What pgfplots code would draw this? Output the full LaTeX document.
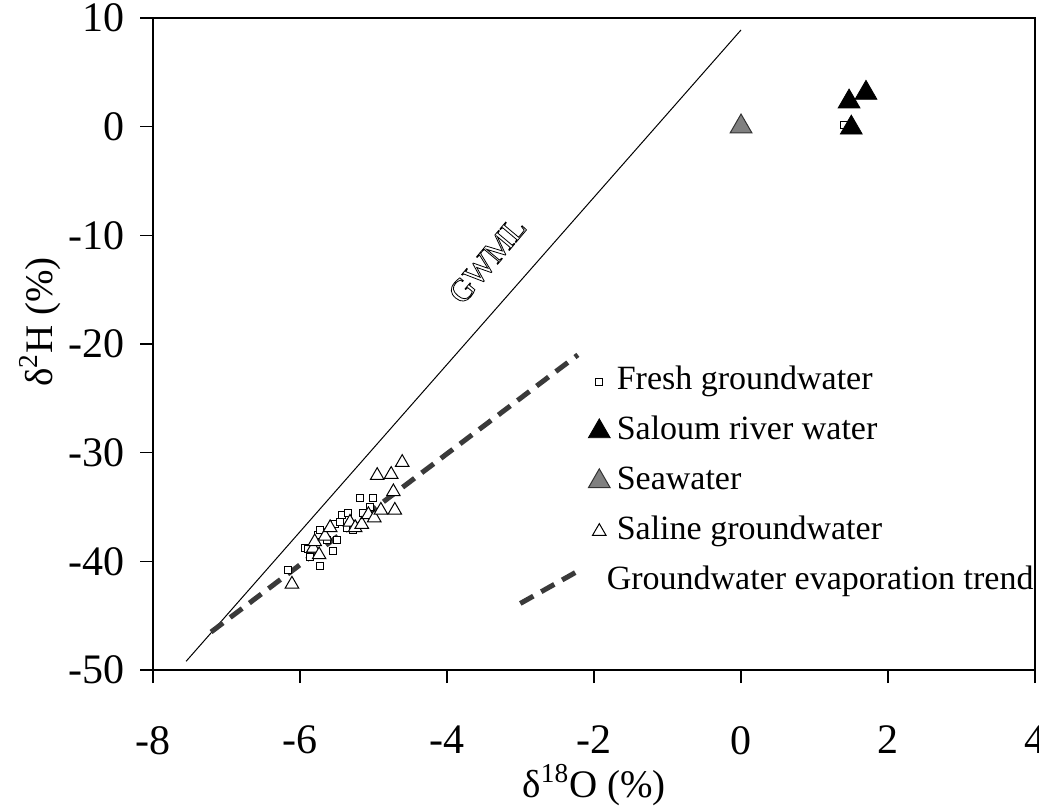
\documentclass[border=0pt]{standalone}
\usepackage{fontspec}
\setmainfont{Liberation Serif}
\usepackage{pgfplots}
\pgfplotsset{compat=1.18}
\definecolor{trend}{HTML}{3A3A3A}
\definecolor{seagray}{HTML}{808080}
\pgfplotsset{
  markleg/.style={legend image code/.code={\draw[mark repeat=2,mark phase=2,##1] plot coordinates {(-7pt,0pt)(0pt,0pt)(7pt,0pt)};}},
  trendleg/.style={legend image code/.code={\draw[##1, overlay] (-39.5pt,-11pt) -- (-11pt,5pt); \path (-7pt,0pt) (7pt,0pt);}},
}
\begin{document}
\begin{tikzpicture}
\begin{axis}[
  scale only axis, width=441pt, height=326pt,
  xmin=-8, xmax=4, ymin=-50, ymax=10,
  xtick={-8,-6,-4,-2,0,2,4},
  ytick={-50,-40,-30,-20,-10,0,10},
  tick pos=left, tick align=outside, major tick length=6.5pt,
  axis line style={line width=0.6pt},
  every tick/.style={black,line width=0.6pt},
  /pgf/number format/assume math mode=true,
  ticklabel style={font=\fontsize{21}{23}\selectfont},
  xticklabel shift=18pt,
  yticklabel shift=4pt,
  xlabel={δ\textsuperscript{18}O (\%)},
  ylabel={δ\textsuperscript{2}H (\%)},
  label style={font=\fontsize{19.5}{22}\selectfont},
  x label style={at={(rel axis cs:0.5,-0.176)}, anchor=center},
  y label style={at={(rel axis cs:-0.128,0.534)}, anchor=center},
  legend style={at={(rel axis cs:0.48,0.480)}, anchor=north west,
    draw=none, fill=none, font=\fontsize{17}{20}\selectfont,
    row sep=5pt, column sep=-1.5pt,
    nodes={text height=12pt, text depth=4pt, inner sep=2pt}},
  legend cell align=left,
  markleg,
]
% GWML
\addplot[black, line width=0.5pt, forget plot] coordinates {(-7.55,-49.2) (0,8.9)};
% Fresh groundwater
\addplot[only marks, mark=square*, mark size=1.75pt, mark options={fill=white, draw=black, line width=0.4pt}] coordinates {
(-6.16,-40.8) (-5.93,-38.8) (-5.89,-38.9) (-5.86,-39.6) (-5.76,-37.6)
(-5.73,-37.1) (-5.73,-40.4) (-5.63,-38.0) (-5.55,-39.0) (-5.52,-36.6)
(-5.50,-38.0) (-5.46,-36.4) (-5.43,-35.7) (-5.36,-36.9) (-5.35,-35.5)
(-5.28,-37.1) (-5.18,-34.2) (-5.14,-35.5) (-5.05,-35.0) (-5.01,-34.2)
(1.40,0.2)};
\addlegendentry{Fresh groundwater}
% Saloum river water
\addplot[only marks, mark=triangle*, mark size=6.3pt, mark options={fill=black, draw=black}] coordinates {
(1.47,2.3) (1.70,3.1) (1.50,-0.1)};
\addlegendentry{Saloum river water}
% Seawater
\addplot[only marks, mark=triangle*, mark size=6.3pt, mark options={fill=seagray, draw=black!80, line width=0.5pt}] coordinates {
(0,0)};
\addlegendentry{Seawater}
% Saline groundwater
\addplot[only marks, mark=triangle*, mark size=3.9pt, mark options={fill=white, draw=black, line width=0.5pt}] coordinates {
(-6.11,-42.1) (-5.82,-38.8) (-5.80,-38.2) (-5.74,-39.4) (-5.66,-37.7)
(-5.59,-36.9) (-5.32,-36.4) (-5.25,-36.9) (-5.16,-36.6) (-5.07,-35.7)
(-4.99,-36.0) (-4.90,-35.3) (-4.71,-35.3) (-4.73,-33.6) (-4.95,-32.1)
(-4.76,-32.0) (-4.61,-30.9)};
\addlegendentry{Saline groundwater}
% Evaporation trend
\addplot[trend, line width=2.5pt, dash pattern=on 7.5pt off 4.5pt, trendleg]
  coordinates {(-7.21,-46.5) (-2.22,-21.0)};
\addlegendentry{\hspace*{-5pt}Groundwater evaporation trend}
\node[rotate=50, font=\fontsize{16}{18}\selectfont, anchor=center, inner sep=0pt] at (axis cs:-3.45,-12.3)
  {\special{pdf:literal 1 Tr 0.4 w}GWML\special{pdf:literal 0 Tr}};
\coordinate (BL) at (rel axis cs:-0.1735,-0.216);
\coordinate (TR) at (rel axis cs:1.0045,1.0276);
\end{axis}
\pgfresetboundingbox
\useasboundingbox (BL) rectangle (TR);
\end{tikzpicture}
\end{document}
